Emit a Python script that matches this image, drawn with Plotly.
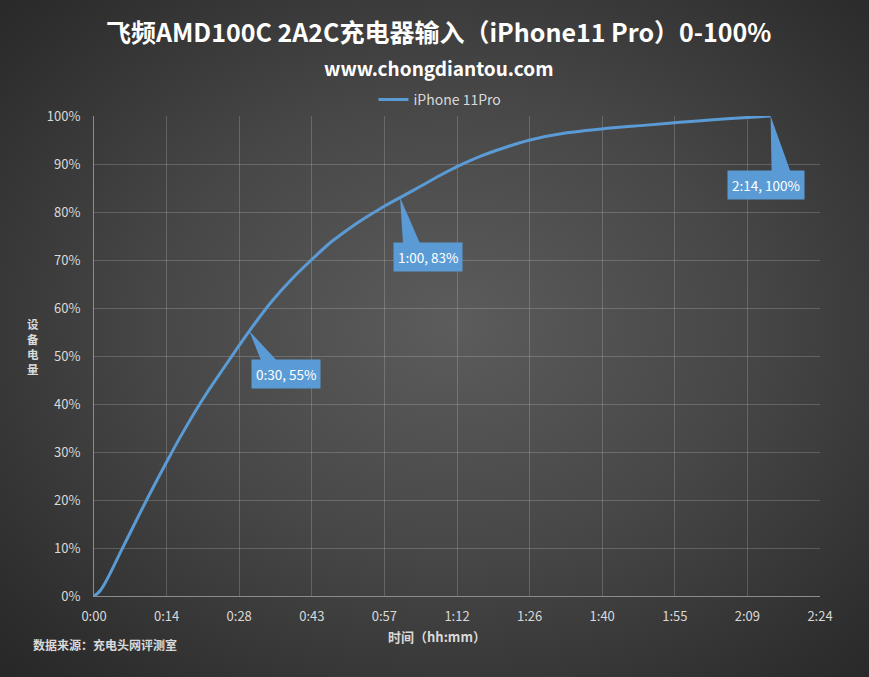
import plotly.graph_objects as go

# ---------------- data ----------------
TIME_MIN = [0, 1.3, 5.9, 10, 14.4, 17.1, 21.7, 25.8, 28.8, 30.8, 35.2, 39.2, 43.2, 47.2, 49,
            52.8, 57.4, 60.7, 64.7, 68.6, 71.9, 76.6, 82, 86.5, 93.8, 100.7, 109.6, 116.2,
            122.8, 128, 134.2]
PERCENT = [0, 1.2, 10.5, 19.1, 27.9, 33.1, 41.2, 47.6, 52.2, 55.2, 61.3, 66.0, 70.1, 73.9, 75.3,
           78.1, 81.1, 83.0, 85.3, 87.6, 89.4, 91.6, 93.6, 95.0, 96.5, 97.3, 98.1, 98.7,
           99.2, 99.6, 100]
SERIES_NAME = "iPhone 11Pro"

X_TICK_LABELS = ["0:00", "0:14", "0:28", "0:43", "0:57", "1:12", "1:26", "1:40", "1:55", "2:09", "2:24"]
X_MAX = 144  # minutes (0.1 day)
Y_TICKS = [0, 10, 20, 30, 40, 50, 60, 70, 80, 90, 100]

CALLOUT_T = [30.8, 60.7, 134.2]
CALLOUT_P = [55.2, 83.0, 100]
CALLOUT_TEXT = ["0:30, 55%", "1:00, 83%", "2:14, 100%"]

TITLE = "飞频AMD100C 2A2C充电器输入（iPhone11 Pro）0-100%"
SUBTITLE = "www.chongdiantou.com"
X_TITLE = "时间（hh:mm）"
Y_TITLE = "设备电量"
SOURCE = "数据来源：充电头网评测室"

# ---------------- style ----------------
BLUE = "#5b9bd5"
TXT = "#d9d9d9"
FONT = "Noto Sans CJK SC"
W, H = 869, 677
ML, MR, MT, MB = 94, 49, 116, 81
PW, PH = W - ML - MR, H - MT - MB


def px(xp):
    return (xp - ML) / PW


def py(yp):
    return (H - MB - yp) / PH


# callout box offset (left, top) from point, wedge base x offsets
CALLOUT_STYLE = [(2, -28, 12, 28), (-7, -44, 3, 20), (-44, -54, 1, 20)]

fig = go.Figure()
fig.add_trace(go.Scatter(
    x=TIME_MIN, y=PERCENT, mode="lines", name=SERIES_NAME,
    line=dict(color=BLUE, width=3, shape="spline", smoothing=1.0),
))

tickvals = [i * X_MAX / (len(X_TICK_LABELS) - 1) for i in range(len(X_TICK_LABELS))]

annotations = []
shapes = []
for t, p, txt, (dx, dy, w0, w1) in zip(CALLOUT_T, CALLOUT_P, CALLOUT_TEXT, CALLOUT_STYLE):
    shapes.append(dict(
        type="path", xref="x", yref="y", xsizemode="pixel", ysizemode="pixel",
        xanchor=t, yanchor=p,
        path=f"M 0,0 L {w0},{dy - 2} L {w1},{dy - 2} Z",
        fillcolor=BLUE, line=dict(width=0), layer="above",
    ))
    annotations.append(dict(
        x=t, y=p, xref="x", yref="y", text=txt, showarrow=False,
        xanchor="left", yanchor="top", xshift=dx, yshift=dy,
        bgcolor=BLUE, borderpad=4, font=dict(family=FONT, size=13.5, color="white"),
    ))

annotations += [
    dict(text=f"<b>{TITLE}</b>", x=px(438), y=py(31), xref="paper", yref="paper",
         xanchor="center", yanchor="middle", showarrow=False,
         font=dict(family=FONT, size=25, color="white")),
    dict(text=f"<b>{SUBTITLE}</b>", x=px(438), y=py(68), xref="paper", yref="paper",
         xanchor="center", yanchor="middle", showarrow=False,
         font=dict(family=FONT, size=19, color="white")),
    dict(text="<b>" + "<br>".join(Y_TITLE) + "</b>", x=px(33), y=py(346),
         xref="paper", yref="paper", xanchor="center", yanchor="middle", showarrow=False,
         font=dict(family=FONT, size=11.5, color=TXT)),
    dict(text=f"<b>{X_TITLE}</b>", x=px(437), y=py(636), xref="paper", yref="paper",
         xanchor="center", yanchor="middle", showarrow=False,
         font=dict(family=FONT, size=13, color=TXT)),
    dict(text=f"<b>{SOURCE}</b>", x=px(31), y=py(644), xref="paper", yref="paper",
         xanchor="left", yanchor="middle", showarrow=False,
         font=dict(family=FONT, size=12, color=TXT)),
]

fig.update_layout(
    width=W, height=H,
    margin=dict(l=ML, r=MR, t=MT, b=MB),
    paper_bgcolor="rgba(0,0,0,0)", plot_bgcolor="rgba(0,0,0,0)",
    font=dict(family=FONT, size=13, color=TXT),
    showlegend=True,
    legend=dict(orientation="h", x=px(440), xanchor="center", y=py(100), yanchor="middle",
                font=dict(family=FONT, size=14, color=TXT), bgcolor="rgba(0,0,0,0)"),
    xaxis=dict(range=[0, X_MAX], tickvals=tickvals, ticktext=X_TICK_LABELS,
               showgrid=True, gridcolor="rgba(255,255,255,0.18)", gridwidth=1,
               showline=True, linecolor="#8c8c8c", linewidth=1, zeroline=False,
               ticks="", tickfont=dict(family=FONT, size=13, color=TXT), ticklabelstandoff=8),
    yaxis=dict(range=[0, 100], tickvals=Y_TICKS, ticktext=[f"{v}%" for v in Y_TICKS],
               showgrid=True, gridcolor="rgba(255,255,255,0.18)", gridwidth=1,
               showline=True, linecolor="#8c8c8c", linewidth=1, zeroline=False,
               ticks="", tickfont=dict(family=FONT, size=13, color=TXT), ticklabelstandoff=10),
    annotations=annotations,
    shapes=shapes,
)

post = ("document.body.style.margin='0';"
        "document.body.style.background='#2a2a2a';"
        "var gd=document.getElementById('{plot_id}');"
        "gd.style.background='radial-gradient(ellipse 75% 75% at 52% 48%, #5c5c5c 0%, #474747 45%, #2e2e2e 85%, #262626 100%)';")

fig.write_html("out.html", post_script=post, config={"displayModeBar": False})
